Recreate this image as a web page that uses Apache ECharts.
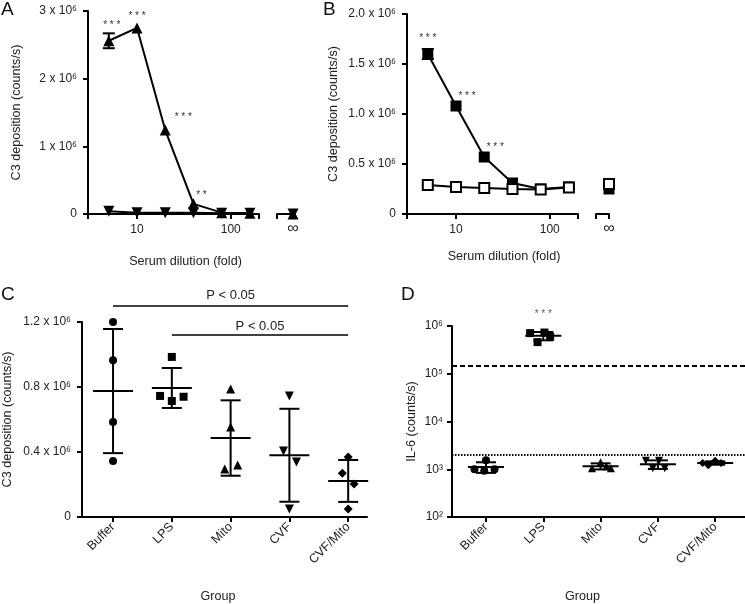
<!DOCTYPE html>
<html><head><meta charset="utf-8">
<script src="https://cdn.jsdelivr.net/npm/echarts@6/dist/echarts.min.js"></script>
<style>html,body{margin:0;padding:0;background:#fff}#c{width:745px;height:604px}</style>
</head><body><div id="c"></div>
<script>
const FONT = 'Liberation Sans, Arial, Helvetica, sans-serif';

// ---------- Panels A / B : serum dilution curves ----------
const dilutions = [5, 10, 20, 40, 80, 160];
const infLabel = '∞';
const aTriUp = [2.56e6, 2.75e6, 1.24e6, 0.15e6, 0.02e6, 0.01e6];
const aTriUpSd = [0.11e6, 0, 0, 0, 0, 0];
const aTriUpInf = 0.0;
const aTriDown = [0.04e6, 0.02e6, 0.02e6, 0.02e6, 0.01e6, 0.01e6];
const aTriDownInf = 0.0;
const aStars = ['***', '***', '***', '**', '', ''];

const bFilled = [1.60e6, 1.08e6, 0.57e6, 0.31e6, 0.25e6, 0.27e6];
const bFilledSd = [0.05e6, 0, 0, 0, 0, 0];
const bFilledInf = 0.25e6;
const bOpen = [0.29e6, 0.27e6, 0.26e6, 0.25e6, 0.245e6, 0.265e6];
const bOpenInf = 0.30e6;
const bStars = ['***', '***', '***', '', '', ''];

// ---------- Panels C / D : groups ----------
const groups = ['Buffer', 'LPS', 'Mito', 'CVF', 'CVF/Mito'];
const cBuffer = [1.20e6, 0.965e6, 0.585e6, 0.345e6];
const cLPS = [0.985e6, 0.745e6, 0.714e6, 0.74e6];
const cMito = [0.788e6, 0.554e6, 0.295e6, 0.32e6];
const cCVF = [0.745e6, 0.406e6, 0.338e6, 0.05e6];
const cCVFMito = [0.37e6, 0.27e6, 0.203e6, 0.05e6];
const cMean = [0.775e6, 0.794e6, 0.486e6, 0.38e6, 0.222e6];
const cSd = [0.382e6, 0.123e6, 0.232e6, 0.286e6, 0.129e6];
const cBracketFrom = [1, 2];
const cBracketTo = [5, 5];
const cBracketY = [1.298e6, 1.12e6];
const cBracketText = ['P < 0.05', 'P < 0.05'];

const dBuffer = [1.55e3, 1.0e3, 0.93e3, 1.0e3];
const dLPS = [7.1e5, 4.6e5, 7.3e5, 6.0e5];
const dMito = [1.05e3, 1.4e3, 1.15e3, 1.05e3];
const dCVF = [1.5e3, 1.05e3, 1.5e3, 1.05e3];
const dCVFMito = [1.35e3, 1.22e3, 1.5e3, 1.35e3];
const dMean = [1.12e3, 6.25e5, 1.16e3, 1.275e3, 1.355e3];
const dSd = [0.28e3, 1.24e5, 0.17e3, 0.26e3, 0.11e3];
const dStars = ['', '***', '', '', ''];
const dDashedLine = 1.45e5;
const dDottedLine = 2.0e3;

// ---------- layout / style (not data) ----------
const cPoints = [cBuffer, cLPS, cMito, cCVF, cCVFMito];
const dPoints = [dBuffer, dLPS, dMito, dCVF, dCVFMito];
const cJitter = [[0,0,0,0],[0,-0.2,0,0.2],[0,0,-0.1,0.12],[0,-0.1,0.12,0],[0,-0.1,0.1,0]];
const dJitter = [[0,-0.2,-0.03,0.15],[-0.23,-0.1,0.02,0.12],[-0.15,0,0.1,0.18],[-0.21,-0.09,0.02,0.12],[-0.22,-0.12,0,0.1]];
const grpSymbols = ['circle', 'rect', 'triangle', 'triangle', 'diamond'];
const grpRotate = [0, 0, 0, 180, 0];
const aStarOffsets = [[3,-16],[0,-12],[18,-13],[8,-9],[0,0],[0,0]];
const bStarOffsets = [[0,-16],[11,-10],[11,-10],[0,0],[0,0],[0,0]];
const bracketTextGap = [4.5, 2.5];

const BLACK = '#000';
const TXT = '#222';
const axisLine = {show: true, onZero: false, lineStyle: {color: BLACK, width: 2}};
const axisTick = {show: true, length: 5, lineStyle: {color: BLACK, width: 2}};
const lbl = {color: TXT, fontFamily: FONT, fontSize: 12};
const nameStyle = {color: TXT, fontFamily: FONT, fontSize: 12.6};

function spaced(s) { return s.split('').join(' '); }
function starLabel(text, off) {
  return {show: !!text, formatter: text ? spaced(text) : '', position: 'inside', offset: off,
          color: '#333', fontSize: 10, fontFamily: FONT};
}
function e6(dec) {
  return v => v === 0 ? '0' : (dec ? (v / 1e6).toFixed(1) : String(v / 1e6)) + ' x 10⁶';
}
const supDigits = ['⁰','¹','²','³','⁴','⁵','⁶','⁷','⁸','⁹'];

function errSeries(xi, yi, xs, ys, sds, capHalf, meanHalf, z) {
  return {
    type: 'custom', xAxisIndex: xi, yAxisIndex: yi, silent: true, clip: false, z: z || 3,
    encode: {x: 0, y: 1},
    data: xs.map((x, i) => [x, ys[i], sds[i]]),
    renderItem: function (params, api) {
      const x = api.value(0), m = api.value(1), s = api.value(2);
      const c = api.coord([x, m]);
      const hi = api.coord([x, m + s]);
      const lo = api.coord([x, m - s]);
      const st = {stroke: BLACK, lineWidth: 2};
      const ch = [];
      if (s > 0) {
        ch.push({type: 'line', shape: {x1: hi[0], y1: hi[1], x2: lo[0], y2: lo[1]}, style: st});
        ch.push({type: 'line', shape: {x1: hi[0] - capHalf, y1: hi[1], x2: hi[0] + capHalf, y2: hi[1]}, style: st});
        ch.push({type: 'line', shape: {x1: lo[0] - capHalf, y1: lo[1], x2: lo[0] + capHalf, y2: lo[1]}, style: st});
      }
      if (meanHalf) ch.push({type: 'line', shape: {x1: c[0] - meanHalf, y1: c[1], x2: c[0] + meanHalf, y2: c[1]}, style: st});
      return {type: 'group', children: ch};
    }
  };
}

const logX = (gi, pad, gap) => ({
  type: 'log', logBase: 10, gridIndex: gi, min: 3, max: 200,
  axisLine, axisTick, splitLine: {show: false}, minorTick: {show: false},
  axisLabel: Object.assign({}, lbl, {margin: 10, formatter: v => {
    const r = Math.round(v); return (r === 10 || r === 100) ? String(r) : ''; }}),
  name: 'Serum dilution (fold)', nameLocation: 'middle', nameGap: gap, nameMoveOverlap: false,
  nameTextStyle: Object.assign({}, nameStyle, {padding: pad})
});
const infX = (gi) => ({
  type: 'value', gridIndex: gi, min: 0, max: 1, interval: 1,
  axisLine, axisTick, splitLine: {show: false},
  axisLabel: Object.assign({}, lbl, {fontSize: 16, margin: 7, formatter: v => v === 1 ? infLabel : ''})
});
const hiddenY = (gi, max) => ({type: 'value', gridIndex: gi, min: 0, max: max, show: false, splitLine: {show: false}});

const grpX = (gi, min, max, gap, pad) => ({
  type: 'value', gridIndex: gi, min: min, max: max,
  axisLine, splitLine: {show: false},
  axisTick: Object.assign({}, axisTick, {customValues: [1, 2, 3, 4, 5]}),
  axisLabel: Object.assign({}, lbl, {fontSize: 12.5, rotate: 45, margin: 8, customValues: [1, 2, 3, 4, 5],
    formatter: v => groups[Math.round(v) - 1] || ''}),
  name: 'Group', nameLocation: 'middle', nameGap: gap, nameMoveOverlap: false,
  nameTextStyle: Object.assign({}, nameStyle, {padding: pad})
});

const series = [];
// A main
series.push(errSeries(0, 0, dilutions, aTriUp, aTriUpSd, 6, 0, 2));
series.push({type: 'line', xAxisIndex: 0, yAxisIndex: 0, silent: true, z: 3,
  data: dilutions.map((d, i) => [d, aTriDown[i]]),
  symbol: 'triangle', symbolRotate: 180, symbolSize: 11, showSymbol: true,
  itemStyle: {color: BLACK, opacity: 1}, lineStyle: {color: BLACK, width: 2}});
series.push({type: 'line', xAxisIndex: 0, yAxisIndex: 0, silent: true, z: 4,
  data: dilutions.map((d, i) => ({value: [d, aTriUp[i]], label: starLabel(aStars[i], aStarOffsets[i])})),
  symbol: 'triangle', symbolSize: 11, showSymbol: true,
  itemStyle: {color: BLACK, opacity: 1}, lineStyle: {color: BLACK, width: 2}});
// A inf
series.push({type: 'scatter', xAxisIndex: 1, yAxisIndex: 1, silent: true, clip: false,
  data: [[1, aTriDownInf]], symbol: 'triangle', symbolRotate: 180, symbolSize: 11, itemStyle: {color: BLACK, opacity: 1}});
series.push({type: 'scatter', xAxisIndex: 1, yAxisIndex: 1, silent: true, clip: false,
  data: [[1, aTriUpInf]], symbol: 'triangle', symbolSize: 11, itemStyle: {color: BLACK, opacity: 1}});
// B main
series.push(errSeries(2, 2, dilutions, bFilled, bFilledSd, 6, 0, 2));
series.push({type: 'line', xAxisIndex: 2, yAxisIndex: 2, silent: true, z: 3,
  data: dilutions.map((d, i) => ({value: [d, bFilled[i]], label: starLabel(bStars[i], bStarOffsets[i])})),
  symbol: 'rect', symbolSize: 11, showSymbol: true,
  itemStyle: {color: BLACK, opacity: 1}, lineStyle: {color: BLACK, width: 2}});
series.push({type: 'line', xAxisIndex: 2, yAxisIndex: 2, silent: true, z: 4,
  data: dilutions.map((d, i) => [d, bOpen[i]]),
  symbol: 'rect', symbolSize: 10, showSymbol: true,
  itemStyle: {color: '#fff', borderColor: BLACK, borderWidth: 2, opacity: 1}, lineStyle: {color: BLACK, width: 2}});
// B inf
series.push({type: 'scatter', xAxisIndex: 3, yAxisIndex: 3, silent: true, clip: false,
  data: [[1, bFilledInf]], symbol: 'rect', symbolSize: 11, itemStyle: {color: BLACK, opacity: 1}});
series.push({type: 'scatter', xAxisIndex: 3, yAxisIndex: 3, silent: true, clip: false, z: 4,
  data: [[1, bOpenInf]], symbol: 'rect', symbolSize: 10, itemStyle: {color: '#fff', borderColor: BLACK, borderWidth: 2, opacity: 1}});

// C
series.push(errSeries(4, 4, [1, 2, 3, 4, 5], cMean, cSd, 10, 20, 3));
cPoints.forEach((pts, g) => {
  series.push({type: 'scatter', xAxisIndex: 4, yAxisIndex: 4, silent: true, clip: false, z: 4,
    data: pts.map((v, j) => [g + 1 + cJitter[g][j], v]),
    symbol: grpSymbols[g], symbolRotate: grpRotate[g], symbolSize: g >= 2 ? 9 : 8,
    itemStyle: {color: BLACK, opacity: 1}});
});
// C significance brackets
series.push({type: 'custom', xAxisIndex: 4, yAxisIndex: 4, silent: true, clip: false, z: 5,
  encode: {x: [0, 1], y: 2},
  data: cBracketY.map((y, k) => [cBracketFrom[k], cBracketTo[k], y]),
  renderItem: function (params, api) {
    const k = params.dataIndex;
    const a = api.coord([api.value(0), api.value(2)]);
    const b = api.coord([api.value(1), api.value(2)]);
    return {type: 'group', children: [
      {type: 'line', shape: {x1: a[0], y1: a[1], x2: b[0], y2: b[1]}, style: {stroke: BLACK, lineWidth: 1.5}},
      {type: 'text', x: (a[0] + b[0]) / 2, y: a[1] - bracketTextGap[k],
       style: {text: cBracketText[k], fill: TXT, fontSize: 13, fontFamily: FONT, align: 'center', verticalAlign: 'bottom'}}
    ]};
  }
});

// D
series.push(errSeries(5, 5, [1, 2, 3, 4, 5], dMean, dSd, 10, 18, 3));
dPoints.forEach((pts, g) => {
  const s = {type: 'scatter', xAxisIndex: 5, yAxisIndex: 5, silent: true, clip: false, z: 4,
    data: pts.map((v, j) => [g + 1 + dJitter[g][j], v]),
    symbol: grpSymbols[g], symbolRotate: grpRotate[g], symbolSize: 8,
    itemStyle: {color: BLACK, opacity: 1}};
  if (g === 0) {
    s.markLine = {silent: true, symbol: ['none', 'none'], animation: false, label: {show: false},
      data: [
        {yAxis: dDashedLine, lineStyle: {color: BLACK, width: 2, type: [5, 3]}},
        {yAxis: dDottedLine, lineStyle: {color: BLACK, width: 2, type: [1.5, 1.5]}}
      ]};
  }
  series.push(s);
});
series.push({type: 'scatter', xAxisIndex: 5, yAxisIndex: 5, silent: true, clip: false, symbolSize: 0,
  data: dMean.map((m, g) => ({value: [g + 1, m], label: starLabel(dStars[g], [0, -21])}))});

const panelTitle = (t, l, top) => ({text: t, left: l, top: top, padding: 0,
  textStyle: {fontSize: 19, fontWeight: 'normal', color: '#111', fontFamily: FONT}});

const option = {
  animation: false,
  backgroundColor: '#fff',
  textStyle: {fontFamily: FONT},
  title: [panelTitle('A', 1, 0), panelTitle('B', 323, 0), panelTitle('C', 1, 285), panelTitle('D', 401, 285)],
  grid: [
    {left: 88, top: 11, width: 171, height: 203, containLabel: false, outerBoundsMode: 'none'},
    {left: 277, top: 11, width: 16, height: 203, containLabel: false, outerBoundsMode: 'none'},
    {left: 407, top: 14, width: 171, height: 200, containLabel: false, outerBoundsMode: 'none'},
    {left: 596, top: 14, width: 13, height: 200, containLabel: false, outerBoundsMode: 'none'},
    {left: 82, top: 322, width: 285, height: 195, containLabel: false, outerBoundsMode: 'none'},
    {left: 452, top: 326, width: 293, height: 191, containLabel: false, outerBoundsMode: 'none'}
  ],
  xAxis: [
    logX(0, [0, 0, 0, 24], 41),
    infX(1),
    logX(2, [0, 0, 0, 23], 36),
    infX(3),
    grpX(4, 0.472, 5.32, 73, [0, 13, 0, 0]),
    grpX(5, 0.407, 5.52, 73, [0, 32, 0, 0])
  ],
  yAxis: [
    {type: 'value', gridIndex: 0, min: 0, max: 3e6, interval: 1e6, axisLine, axisTick, splitLine: {show: false},
     axisLabel: Object.assign({}, lbl, {margin: 11, formatter: e6(false)}),
     name: 'C3 deposition (counts/s)', nameLocation: 'middle', nameGap: 65, nameMoveOverlap: false, nameTextStyle: nameStyle},
    hiddenY(1, 3e6),
    {type: 'value', gridIndex: 2, min: 0, max: 2e6, interval: 0.5e6, axisLine, axisTick, splitLine: {show: false},
     axisLabel: Object.assign({}, lbl, {margin: 11, formatter: e6(true)}),
     name: 'C3 deposition (counts/s)', nameLocation: 'middle', nameGap: 67, nameMoveOverlap: false, nameTextStyle: nameStyle},
    hiddenY(3, 2e6),
    {type: 'value', gridIndex: 4, min: 0, max: 1.2e6, interval: 0.4e6, axisLine, axisTick, splitLine: {show: false},
     axisLabel: Object.assign({}, lbl, {margin: 11, formatter: e6(true)}),
     name: 'C3 deposition (counts/s)', nameLocation: 'middle', nameGap: 68, nameMoveOverlap: false, nameTextStyle: nameStyle},
    {type: 'log', logBase: 10, gridIndex: 5, min: 100, max: 1e6, axisLine, axisTick, splitLine: {show: false}, minorTick: {show: false},
     axisLabel: Object.assign({}, lbl, {margin: 9, formatter: v => '10' + supDigits[Math.round(Math.log10(v))]}),
     name: 'IL-6 (counts/s)', nameLocation: 'middle', nameGap: 34, nameMoveOverlap: false, nameTextStyle: nameStyle}
  ],
  series: series
};

const chart = echarts.init(document.getElementById('c'), null, {renderer: 'canvas'});
chart.setOption(option);
</script>
</body></html>
